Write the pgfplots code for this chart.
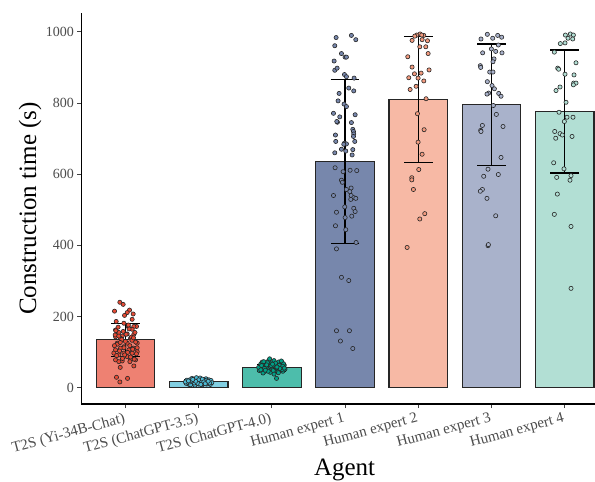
\documentclass[border=0pt]{standalone}
\usepackage{pgfplots}
\pgfplotsset{compat=1.18}
\usepackage{fontspec}
\setmainfont{Liberation Serif}
\definecolor{cA}{RGB}{230,75,53}
\definecolor{cB}{RGB}{77,187,213}
\definecolor{cC}{RGB}{0,160,135}
\definecolor{cD}{RGB}{60,84,136}
\definecolor{cE}{RGB}{243,155,127}
\definecolor{cF}{RGB}{132,145,180}
\definecolor{cG}{RGB}{145,209,194}
\definecolor{fA}{RGB}{238,129,114}
\definecolor{fB}{RGB}{130,207,226}
\definecolor{fC}{RGB}{77,189,171}
\definecolor{fD}{RGB}{119,135,172}
\definecolor{fE}{RGB}{247,185,165}
\definecolor{fF}{RGB}{169,178,203}
\definecolor{fG}{RGB}{178,223,212}
\pgfplotsset{
  barsty/.style={ybar, bar width=0.8, bar shift=0pt, draw=black!85, line width=1.2pt},
  ptsty/.style={only marks, mark=*, mark size=2.1pt, mark options={fill=#1, draw=black!85, line width=0.6pt}},
  errsty/.style={draw=none, mark=none, error bars/.cd, y dir=#1, y explicit,
    error bar style={draw=black, line width=1.2pt},
    error mark options={rotate=90, mark size=14.4pt, draw=black, line width=1.2pt}},
}
\begin{document}
\begin{tikzpicture}
\begin{axis}[
  at={(0pt,0pt)}, anchor=south west,
  scale only axis, width=513.9pt, height=391pt,
  xmin=-0.6, xmax=6.42, ymin=-46, ymax=1053,
  axis lines=left, axis line style={-, line width=1.1pt, black},
  xtick={0,1,2,3,4,5,6},
  xticklabels={T2S (Yi-34B-Chat),T2S (ChatGPT-3.5),T2S (ChatGPT-4.0),Human expert 1,Human expert 2,Human expert 3,Human expert 4},
  ytick={0,200,400,600,800,1000},
  tick align=outside, major tick length=4pt,
  tick style={line width=0.8pt, black!75},
  xticklabel style={rotate=15, anchor=north east, font=\fontsize{15}{17}\selectfont, text=black!70},
  yticklabel style={font=\fontsize{14}{16}\selectfont, text=black!70},
  /pgf/number format/assume math mode=true,
  /pgf/number format/1000 sep={},
  xlabel={Agent}, ylabel={Construction time (s)},
  every axis x label/.style={at={(axis description cs:0.512,-0.182)}, anchor=base, font=\fontsize{25}{30}\selectfont},
  every axis y label/.style={at={(axis description cs:-0.1,0.5)}, rotate=90, anchor=center, font=\fontsize{25}{30}\selectfont},
  clip=false,
]
% bars
\addplot[barsty, fill=fA] coordinates {(0,135)};
\addplot[barsty, fill=fB] coordinates {(1,17)};
\addplot[barsty, fill=fC] coordinates {(2,57)};
\addplot[barsty, fill=fD] coordinates {(3,635)};
\addplot[barsty, fill=fE] coordinates {(4,809)};
\addplot[barsty, fill=fF] coordinates {(5,795)};
\addplot[barsty, fill=fG] coordinates {(6,776)};
% points
\addplot[ptsty=cA] coordinates {
(-0.076,240)(-0.031,234)(-0.149,215)(0.056,218)(0.024,211)(-0.012,203)(0.106,207)(0.092,192)(-0.126,186)(-0.021,181)
(0.152,172)(0.038,172)(0.115,172)(-0.135,162)(0.092,164)(-0.090,155)(0.024,151)(-0.044,145)(0.115,150)(-0.135,143)
(-0.067,139)(0.070,139)(0.161,125)(0.024,125)(-0.112,125)(-0.021,115)(0.106,111)(-0.067,111)(-0.135,106)(0.047,106)
(0.161,101)(-0.158,97)(-0.021,97)(0.092,97)(-0.090,92)(0.024,87)(0.138,78)(-0.135,78)(-0.044,75)(0.070,78)
(-0.090,73)(0.061,73)(0.115,61)(-0.071,57)(-0.122,29)(0.029,26)(-0.076,16)
(-0.10,170)(0.05,165)(-0.03,158)(0.13,155)(-0.14,148)(0.08,142)(-0.05,135)(0.00,130)(0.14,128)(-0.11,122)
(0.06,118)(-0.02,112)(0.10,108)(-0.08,103)(0.03,99)(0.15,95)(-0.12,90)(0.07,86)(-0.04,82)(0.12,80)
(-0.15,118)(0.01,150)(0.09,133)(-0.07,127)(0.04,176)(-0.13,160)(0.11,140)(-0.01,92)(0.16,112)(-0.09,145)
};
\addplot[ptsty=cB] coordinates {
(0.83,12)(0.85,18)(0.87,9)(0.88,22)(0.90,15)(0.91,26)(0.92,11)(0.94,19)(0.95,7)(0.96,24)
(0.97,14)(0.98,17)(0.99,21)(1.00,10)(1.01,16)(1.02,27)(1.03,13)(1.04,20)(1.05,8)(1.06,18)
(1.07,23)(1.08,12)(1.09,16)(1.10,25)(1.11,10)(1.12,19)(1.13,14)(1.14,22)(1.15,17)(1.16,9)
(1.17,20)(0.84,21)(0.86,14)(0.89,8)(0.93,16)(0.97,28)(1.02,19)(1.06,11)(1.10,15)(1.14,12)
(0.88,16)(0.94,13)(1.00,22)(1.04,15)(1.08,20)(1.12,17)(1.18,14)(0.82,16)(0.91,19)(1.05,24)
(0.99,12)(1.11,21)(0.96,18)(1.15,13)(1.07,16)(0.86,19)(1.03,9)(0.92,23)(1.13,18)(1.09,11)
};
\addplot[ptsty=cC] coordinates {
(1.83,48)(1.84,60)(1.85,67)(1.86,55)(1.87,72)(1.88,52)(1.89,63)(1.90,45)(1.91,58)(1.92,69)
(1.93,50)(1.94,61)(1.95,74)(1.96,54)(1.97,66)(1.98,43)(1.99,57)(2.00,70)(2.01,51)(2.02,62)
(2.03,76)(2.04,47)(2.05,59)(2.06,68)(2.07,53)(2.08,64)(2.09,72)(2.10,49)(2.11,60)(2.12,66)
(2.13,55)(2.14,71)(2.15,46)(2.16,58)(2.17,63)(2.18,52)(1.82,57)(1.88,41)(1.92,56)(1.96,65)
(2.00,53)(2.04,61)(2.08,44)(2.12,57)(2.16,67)(1.86,62)(1.90,54)(1.94,70)(1.98,59)(2.02,48)
(2.06,56)(2.10,63)(2.14,51)(1.85,50)(1.95,46)(2.05,69)(2.15,60)(1.89,73)(2.09,42)(2.064,26)
(1.97,81)(2.03,38)(2.11,54)(1.93,64)(2.13,75)(1.99,62)(2.07,58)(1.91,49)(2.01,66)(2.17,55)
};
\addplot[ptsty=fD] coordinates {
(2.878,984)(3.087,990)(3.147,978)(2.860,961)(2.951,939)(3.001,929)(3.019,929)(2.851,918)(2.860,892)(2.892,898)
(2.992,880)(3.019,874)(3.124,870)(3.051,842)(3.119,834)(2.919,827)(2.905,806)(2.987,797)(3.019,790)(2.842,771)
(2.928,761)(3.138,767)(2.896,746)(2.887,748)(3.087,745)(3.106,726)(3.115,720)(3.119,713)(2.869,710)(3.115,706)
(2.873,692)(3.133,692)(2.992,687)(3.019,685)(2.983,684)(2.951,670)(2.860,660)(3.010,665)(3.106,669)(3.097,654)
(2.864,618)(2.974,607)(3.069,611)(3.160,610)(2.951,583)(2.964,577)(3.019,557)(3.083,561)(2.842,540)(3.065,551)
(3.083,540)(3.119,534)(3.147,532)(3.078,529)(2.996,508)(3.119,504)(2.883,493)(3.138,495)(3.001,478)(3.092,482)
(2.869,455)(3.010,444)(3.151,408)(2.883,390)(2.951,310)(3.051,301)(2.883,160)(3.060,160)(2.937,131)(3.106,110)
};
\addplot[ptsty=cE] coordinates {
(3.980,991)(4.026,994)(4.076,990)(3.916,976)(4.053,978)(4.126,975)(4.021,958)(4.103,958)(4.135,939)(3.857,930)
(3.916,901)(4.148,893)(3.948,882)(4.039,884)(3.871,871)(3.998,870)(4.076,862)(3.971,847)(3.889,838)(4.107,812)
(3.989,770)(4.080,725)(3.998,690)(4.053,656)(4.007,613)(3.912,590)(3.912,584)(3.934,557)(4.089,489)(4.021,474)
(3.848,394)(3.953,988)(4.048,991)
};
\addplot[ptsty=fF] coordinates {
(4.944,993)(5.017,982)(5.085,990)(5.140,985)(4.857,980)(5.094,963)(4.999,952)(5.058,945)(4.880,941)(5.144,941)
(5.035,924)(5.021,916)(4.848,905)(4.853,900)(4.976,887)(5.021,887)(4.944,860)(5.008,849)(5.040,840)(4.962,828)
(4.939,825)(5.099,827)(5.131,819)(5.026,793)(5.067,768)(4.876,737)(4.853,723)(4.857,720)(5.158,734)(5.131,647)
(4.953,614)(4.894,594)(5.094,599)(4.876,557)(4.848,552)(4.939,532)(5.058,483)(4.953,399)(4.958,402)
};
\addplot[ptsty=fG] coordinates {
(6.010,991)(6.078,994)(6.119,991)(6.046,982)(6.110,980)(5.941,967)(6.005,969)(5.859,943)(6.155,913)(5.905,898)
(5.918,895)(6.005,881)(6.128,879)(5.937,845)(5.882,835)(6.123,856)(6.155,856)(6.119,851)(6.019,802)(5.923,774)
(6.032,760)(6.114,760)(5.996,748)(5.864,720)(5.937,714)(5.969,710)(5.878,701)(6.101,706)(5.850,632)(5.991,615)
(5.891,591)(6.087,596)(6.073,583)(5.900,544)(5.859,487)(6.087,453)(6.087,279)
};
% error bars: mean - sd to mean + sd (means 134, 17, 56, 635, 809, 795, 776)
\addplot[errsty=plus] coordinates {
  (0,88) +- (0,92)
  (1,12) +- (0,10)
  (2,46) +- (0,20)
  (3,405) +- (0,460)
  (4,632) +- (0,354)
  (5,624) +- (0,342)
  (6,603) +- (0,346)
};
\addplot[errsty=minus] coordinates {
  (0,180) +- (0,92)
  (1,22) +- (0,10)
  (2,66) +- (0,20)
  (3,865) +- (0,460)
  (4,986) +- (0,354)
  (5,966) +- (0,342)
  (6,949) +- (0,346)
};
\end{axis}
\pgfresetboundingbox
\useasboundingbox (-81.5pt,-78pt) rectangle (513.5pt,404pt);
\end{tikzpicture}
\end{document}
